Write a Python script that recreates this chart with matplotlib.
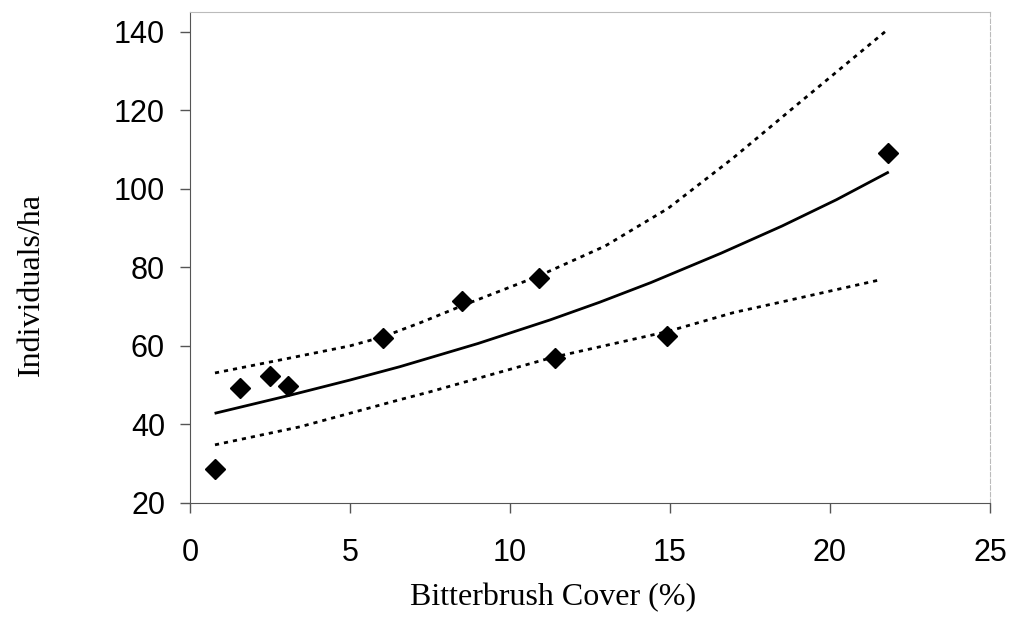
import matplotlib.pyplot as plt
import numpy as np

# observed points
cover = [0.78, 1.56, 2.5, 3.06, 6.03, 8.5, 10.9, 11.4, 14.9, 21.8]
density = [28.7, 49.3, 52.4, 49.8, 62.0, 71.5, 77.3, 56.9, 62.5, 109.2]

# fitted curve and bounds
fit_x = [0.81, 3.06, 5.0, 6.56, 9.0, 11.25, 12.8, 14.4, 16.6, 18.5, 20.2, 21.8]
fit_y = [42.9, 47.3, 51.3, 54.7, 60.6, 66.6, 71.1, 76.1, 83.6, 90.5, 97.2, 104.1]

upper_x = [0.78, 3.06, 5.0, 6.03, 7.2, 8.5, 10.9, 12.97, 14.94, 16.97, 19.06, 21.8]
upper_y = [53.1, 56.8, 60.0, 62.3, 65.9, 70.2, 77.8, 85.4, 95.0, 107.8, 122.0, 140.5]

lower_x = [0.78, 3.44, 6.56, 7.5, 11.3, 14.9, 17.0, 18.5, 21.56]
lower_y = [34.8, 39.4, 46.3, 48.3, 57.0, 63.6, 68.5, 71.2, 76.8]

xticks = [0, 5, 10, 15, 20, 25]
yticks = [20, 40, 60, 80, 100, 120, 140]

fig = plt.figure(figsize=(10.14, 6.17), dpi=100)
ax = fig.add_axes([0.1874, 0.1848, 0.7889, 0.7958])

ax.plot(fit_x, fit_y, color='black', linewidth=2)
ax.plot(upper_x, upper_y, color='black', linewidth=2, dashes=(1.5, 1.8))
ax.plot(lower_x, lower_y, color='black', linewidth=2, dashes=(1.5, 1.8))
ax.plot(cover, density, 'D', color='black', markersize=10, linestyle='none')

ax.set_xlim(0, 25)
ax.set_ylim(20, 145)
ax.set_xticks(xticks)
ax.set_yticks(yticks)
ax.tick_params(labelsize=22, length=7, color='#555555', width=1)
ax.tick_params(axis='x', pad=18)
ax.tick_params(axis='y', pad=11)
for lab in ax.get_xticklabels() + ax.get_yticklabels():
    lab.set_family(['Liberation Sans', 'DejaVu Sans'])

ax.spines['left'].set_color('#555555')
ax.spines['bottom'].set_color('#555555')
ax.spines['top'].set_color('#bbbbbb')
ax.spines['right'].set_color('#bbbbbb')
ax.spines['right'].set_linestyle((0, (4, 2)))

ax.set_xlabel('Bitterbrush Cover (%)', fontsize=23, family='Liberation Serif')
ax.set_ylabel('Individuals/ha', fontsize=23, family='Liberation Serif')
ax.xaxis.set_label_coords(0.454, -0.163)
ax.yaxis.set_label_coords(-0.18, 0.445)

fig.savefig('out.png', dpi=100)
